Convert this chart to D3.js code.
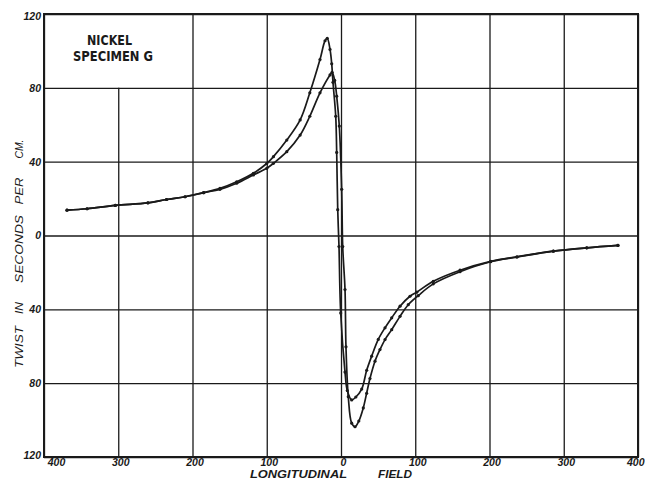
<!DOCTYPE html>
<html><head><meta charset="utf-8">
<script src="https://cdn.jsdelivr.net/npm/d3@7"></script>
<style>body{margin:0;background:#fff}svg{display:block}</style>
</head><body><svg id="c" width="645" height="483"></svg>
<script>
// ---- data ----
const xTicks = [-400, -300, -200, -100, 0, 100, 200, 300, 400];
const yTicks = [-120, -80, -40, 0, 40, 80, 120];
const branchAField = [-369, -342, -304, -260, -235, -210, -185, -163, -140.5, -118, -100, -91, -73, -55, -42, -28.3, -21.5, -18.5, -14.8, -12.5, -10.8, -7.1, -5.8, -4.4, -2.7, -0.4, 5.4, 8.5, 14.4, 20, 27.9, 34.6, 41.3, 50.2, 59.3, 68.3, 79.5, 92.9, 102, 124.3, 160.3, 201.6, 237, 286, 331, 373];
const branchATwist = [13.7, 14.5, 16.3, 17.7, 19.5, 21, 23.2, 25.5, 29.1, 33.7, 39, 42.7, 51.7, 62.6, 77.3, 95.3, 105.5, 106.8, 100.8, 93, 83, 64.6, 45, 14, -6, -42, -74, -84, -89.1, -87.5, -83.2, -73, -65.4, -56.3, -50, -44.6, -38.3, -32.9, -30.7, -24.8, -18.8, -14, -11.5, -8.5, -6.7, -5.4];
const branchBField = [-369, -342, -304, -260, -235, -210, -185, -163, -140.5, -118, -100, -91, -73, -55, -42, -28.3, -14.8, -12, -8.5, -5.8, -2.3, 0.9, 2.3, 5.4, 6.7, 9.8, 14.4, 18.9, 24, 30, 34.5, 39, 45.8, 52.5, 59.3, 68.3, 79.5, 90.6, 104, 124.3, 160.3, 201.6, 237, 286, 331, 373];
const branchBTwist = [13.7, 14.5, 16.3, 17.7, 19.5, 21, 23.2, 25, 28.3, 32.8, 36.4, 39.1, 45.4, 54.4, 64.6, 77.3, 87, 88.4, 84, 75.5, 59.3, 25, -6, -29.3, -60.3, -87.3, -101.7, -103.6, -100.5, -93.4, -85.5, -77.5, -68.1, -61.8, -56.4, -51, -43.8, -37.5, -32.6, -26.2, -19.6, -14.2, -11.7, -8.5, -6.7, -5.4];
const titleLines = ["NICKEL", "SPECIMEN G"];
const yTitleWords = ["TWIST", "IN", "SECONDS", "PER", "CM."];
const xTitleWords = ["LONGITUDINAL", "FIELD"];

// ---- drawing ----
const svg = d3.select("#c");
const L = 44, R = 638, T = 14, B = 457;
const x = d3.scaleLinear().domain([-400, 400]).range([L, R]);
const y = d3.scaleLinear().domain([-120, 120]).range([B, T]);
const ink = "#1a1a1a";

// vertical grid
const gx = svg.append("g").attr("transform", `translate(0,${B})`)
  .call(d3.axisBottom(x).tickValues(xTicks).tickSize(-(B - T)).tickFormat(""));
gx.select(".domain").remove();
gx.selectAll(".tick line").attr("stroke", ink).attr("stroke-width", 1.3)
  .attr("y2", d => d === -300 ? y(80) - B : -(B - T));

// horizontal grid
const gy = svg.append("g").attr("transform", `translate(${L},0)`)
  .call(d3.axisLeft(y).tickValues(yTicks).tickSize(-(R - L)).tickFormat(""));
gy.select(".domain").remove();
gy.selectAll(".tick line").attr("stroke", ink).attr("stroke-width", 1.3);

// frame
svg.append("rect").attr("x", L).attr("y", T).attr("width", R - L).attr("height", B - T)
  .attr("fill", "none").attr("stroke", ink).attr("stroke-width", 2);

const tickFont = "'Liberation Sans', Arial, sans-serif";

// x tick labels
const xl = svg.append("g").attr("transform", `translate(0,${B})`)
  .call(d3.axisBottom(x).tickValues(xTicks).tickSize(0).tickPadding(2).tickFormat(d => Math.abs(d)));
xl.select(".domain").remove();
xl.selectAll("text").attr("font-family", tickFont).attr("font-size", 10.5)
  .attr("font-style", "italic").attr("font-weight", "bold").attr("fill", ink)
  .attr("text-anchor", d => d === 400 ? "end" : "middle")
  .attr("dx", d => d === -400 ? 12 : (d === 400 ? 6 : 2));

// y tick labels
const yl = svg.append("g").attr("transform", `translate(${L},0)`)
  .call(d3.axisLeft(y).tickValues(yTicks).tickSize(0).tickPadding(3).tickFormat(d => Math.abs(d)));
yl.select(".domain").remove();
yl.selectAll("text").attr("font-family", tickFont).attr("font-size", 10.5)
  .attr("font-style", "italic").attr("font-weight", "bold").attr("fill", ink)
  .attr("dy", d => d === 120 ? "0.55em" : (d === -120 ? "0.1em" : "0.32em"));

// curves
const line = d3.line().x(d => x(d[0])).y(d => y(d[1])).curve(d3.curveCatmullRom.alpha(0.5));
const branches = [d3.zip(branchAField, branchATwist), d3.zip(branchBField, branchBTwist)];
branches.forEach(pts => {
  svg.append("path").datum(pts).attr("d", line)
    .attr("fill", "none").attr("stroke", ink).attr("stroke-width", 1.7);
  svg.append("g").selectAll("circle").data(pts).join("circle")
    .attr("cx", d => x(d[0])).attr("cy", d => y(d[1])).attr("r", 1.6).attr("fill", ink);
});

// specimen label
const tf = "'Liberation Sans Narrow', 'DejaVu Sans Condensed', 'Liberation Sans', sans-serif";
svg.append("text").text(titleLines[0]).attr("x", 87).attr("y", 45)
  .attr("font-family", tf).attr("font-weight", "bold").attr("font-size", 13.5).attr("fill", ink)
  .attr("textLength", 45).attr("lengthAdjust", "spacingAndGlyphs");
svg.append("text").text(titleLines[1]).attr("x", 73).attr("y", 61)
  .attr("font-family", tf).attr("font-weight", "bold").attr("font-size", 13.5).attr("fill", ink)
  .attr("textLength", 80).attr("lengthAdjust", "spacingAndGlyphs");

// y-axis title words (rotated), centres measured along the axis
const yWordCentres = [347, 308, 249, 191, 149];
const yWordLens = [42, 12, 68, 27, 19];
yTitleWords.forEach((w, i) => {
  svg.append("text").text(w)
    .attr("transform", `translate(23,${yWordCentres[i]}) rotate(-90)`)
    .attr("text-anchor", "middle")
    .attr("font-family", tickFont).attr("font-style", "italic").attr("font-size", 11).attr("fill", ink)
    .attr("textLength", yWordLens[i]).attr("lengthAdjust", "spacingAndGlyphs");
});

// x-axis title
const xWordStarts = [250, 378];
const xWordLens = [97, 34];
xTitleWords.forEach((w, i) => {
  svg.append("text").text(w).attr("x", xWordStarts[i]).attr("y", 478)
    .attr("font-family", tickFont).attr("font-style", "italic").attr("font-weight", "bold")
    .attr("font-size", 11).attr("fill", ink)
    .attr("textLength", xWordLens[i]).attr("lengthAdjust", "spacingAndGlyphs");
});
</script>
</body></html>
